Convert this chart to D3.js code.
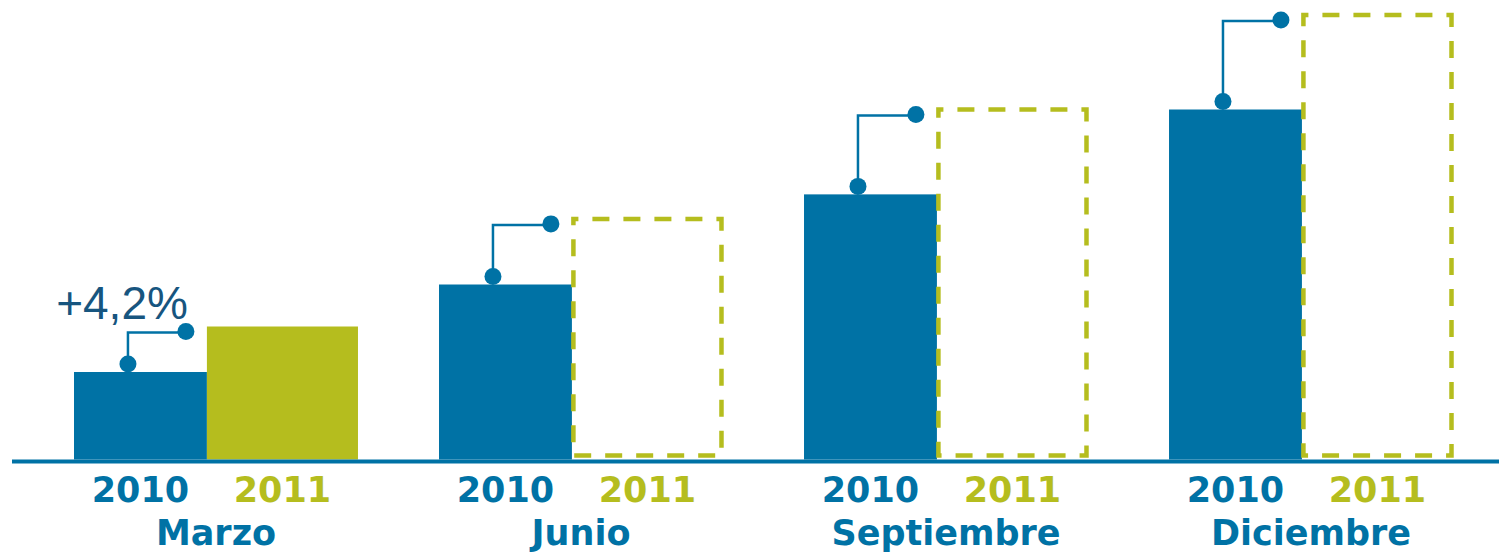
<!DOCTYPE html>
<html>
<head>
<meta charset="utf-8">
<script src="https://cdn.jsdelivr.net/npm/d3@7"></script>
<style>
  html, body { margin: 0; padding: 0; background: #ffffff; }
  svg { display: block; }
</style>
</head>
<body>
<svg id="chart" width="1499" height="553"></svg>
<script>
// ---- data ----
const months = ["Marzo", "Junio", "Septiembre", "Diciembre"];
const years = ["2010", "2011"];
const values2010 = [100, 200, 303, 400];
const values2011 = [152, 275, 400, 508];
const projected2011 = [false, true, true, true];   // 2011 drawn as dashed outline (estimate)
const changeLabels = ["+4,2%", "", "", ""];

// ---- styles ----
const BLUE = "#0072a5";
const GREEN = "#b5bd1e";
const DARK = "#17557f";

const W = 1499, H = 553;
const svg = d3.select("#chart");

const x = d3.scaleBand().domain(months).range([74, 1453]).paddingInner(0.222).paddingOuter(0);
const y = d3.scaleLinear().domain([0, 500]).range([459.5, 22]);
const split = 0.468;   // share of each group taken by the 2010 bar

const data = months.map((m, i) => ({
  month: m, v0: values2010[i], v1: values2011[i], proj: projected2011[i], label: changeLabels[i]
}));

const g = svg.append("g");

// 2010 bars
g.selectAll("rect.b2010").data(data).join("rect")
  .attr("class", "b2010")
  .attr("x", d => x(d.month))
  .attr("width", x.bandwidth() * split)
  .attr("y", d => y(d.v0))
  .attr("height", d => y(0) - y(d.v0))
  .attr("fill", BLUE);

// 2011 filled bars
g.selectAll("rect.b2011").data(data.filter(d => !d.proj)).join("rect")
  .attr("class", "b2011")
  .attr("x", d => x(d.month) + x.bandwidth() * split)
  .attr("width", x.bandwidth() * (1 - split))
  .attr("y", d => y(d.v1))
  .attr("height", d => y(0) - y(d.v1))
  .attr("fill", GREEN);

// 2011 dashed outlines
g.selectAll("path.p2011").data(data.filter(d => d.proj)).join("path")
  .attr("class", "p2011")
  .attr("d", d => {
    const x0 = x(d.month) + x.bandwidth() * split + 1.5;
    const x1 = x(d.month) + x.bandwidth() - 1.5;
    const y0 = y(d.v1);
    const y1 = y(0) - 4;
    return `M${x0},${y0}H${x1}V${y1}H${x0}Z`;
  })
  .attr("fill", "none")
  .attr("stroke", GREEN)
  .attr("stroke-width", 4.5)
  .attr("stroke-dasharray", "17,14")
  .attr("stroke-dashoffset", 12);

// baseline
svg.append("line")
  .attr("x1", 12).attr("x2", W)
  .attr("y1", y(0) + 2).attr("y2", y(0) + 2)
  .attr("stroke", BLUE).attr("stroke-width", 4);

// connectors
const conn = g.selectAll("g.conn").data(data).join("g").attr("class", "conn");
const lowX = d => x(d.month) + x.bandwidth() * 0.19;
const lowY = d => y(d.v0) - 8;
const upX = d => x(d.month) + x.bandwidth() * split - 21;
const upY = d => y(d.v1) + 5;
conn.append("path")
  .attr("d", d => `M${lowX(d)},${lowY(d)}V${upY(d) + 1}H${upX(d)}`)
  .attr("fill", "none").attr("stroke", BLUE).attr("stroke-width", 2.5);
conn.append("circle").attr("cx", lowX).attr("cy", lowY).attr("r", 8.5).attr("fill", BLUE);
conn.append("circle").attr("cx", upX).attr("cy", upY).attr("r", 8.5).attr("fill", BLUE);
conn.filter(d => d.label).append("text")
  .attr("x", d => upX(d) + 2)
  .attr("y", d => upY(d) - 13)
  .attr("text-anchor", "end")
  .attr("font-family", "'Liberation Sans', Arial, sans-serif")
  .attr("font-size", 46)
  .attr("fill", DARK)
  .text(d => d.label);

// year labels
const yl = g.selectAll("g.years").data(data).join("g").attr("class", "years");
yl.append("text")
  .attr("x", d => x(d.month) + x.bandwidth() * split / 2)
  .attr("y", 502)
  .attr("text-anchor", "middle")
  .attr("font-family", "'DejaVu Sans', Verdana, sans-serif")
  .attr("font-weight", "bold").attr("font-size", 35)
  .attr("fill", BLUE)
  .text(years[0]);
yl.append("text")
  .attr("x", d => x(d.month) + x.bandwidth() * (1 + split) / 2)
  .attr("y", 502)
  .attr("text-anchor", "middle")
  .attr("font-family", "'DejaVu Sans', Verdana, sans-serif")
  .attr("font-weight", "bold").attr("font-size", 35)
  .attr("fill", GREEN)
  .text(years[1]);

// month labels
g.selectAll("text.month").data(data).join("text")
  .attr("class", "month")
  .attr("x", d => x(d.month) + x.bandwidth() / 2)
  .attr("y", 545)
  .attr("text-anchor", "middle")
  .attr("font-family", "'DejaVu Sans', Verdana, sans-serif")
  .attr("font-weight", "bold").attr("font-size", 35)
  .attr("fill", BLUE)
  .text(d => d.month);
</script>
</body>
</html>
